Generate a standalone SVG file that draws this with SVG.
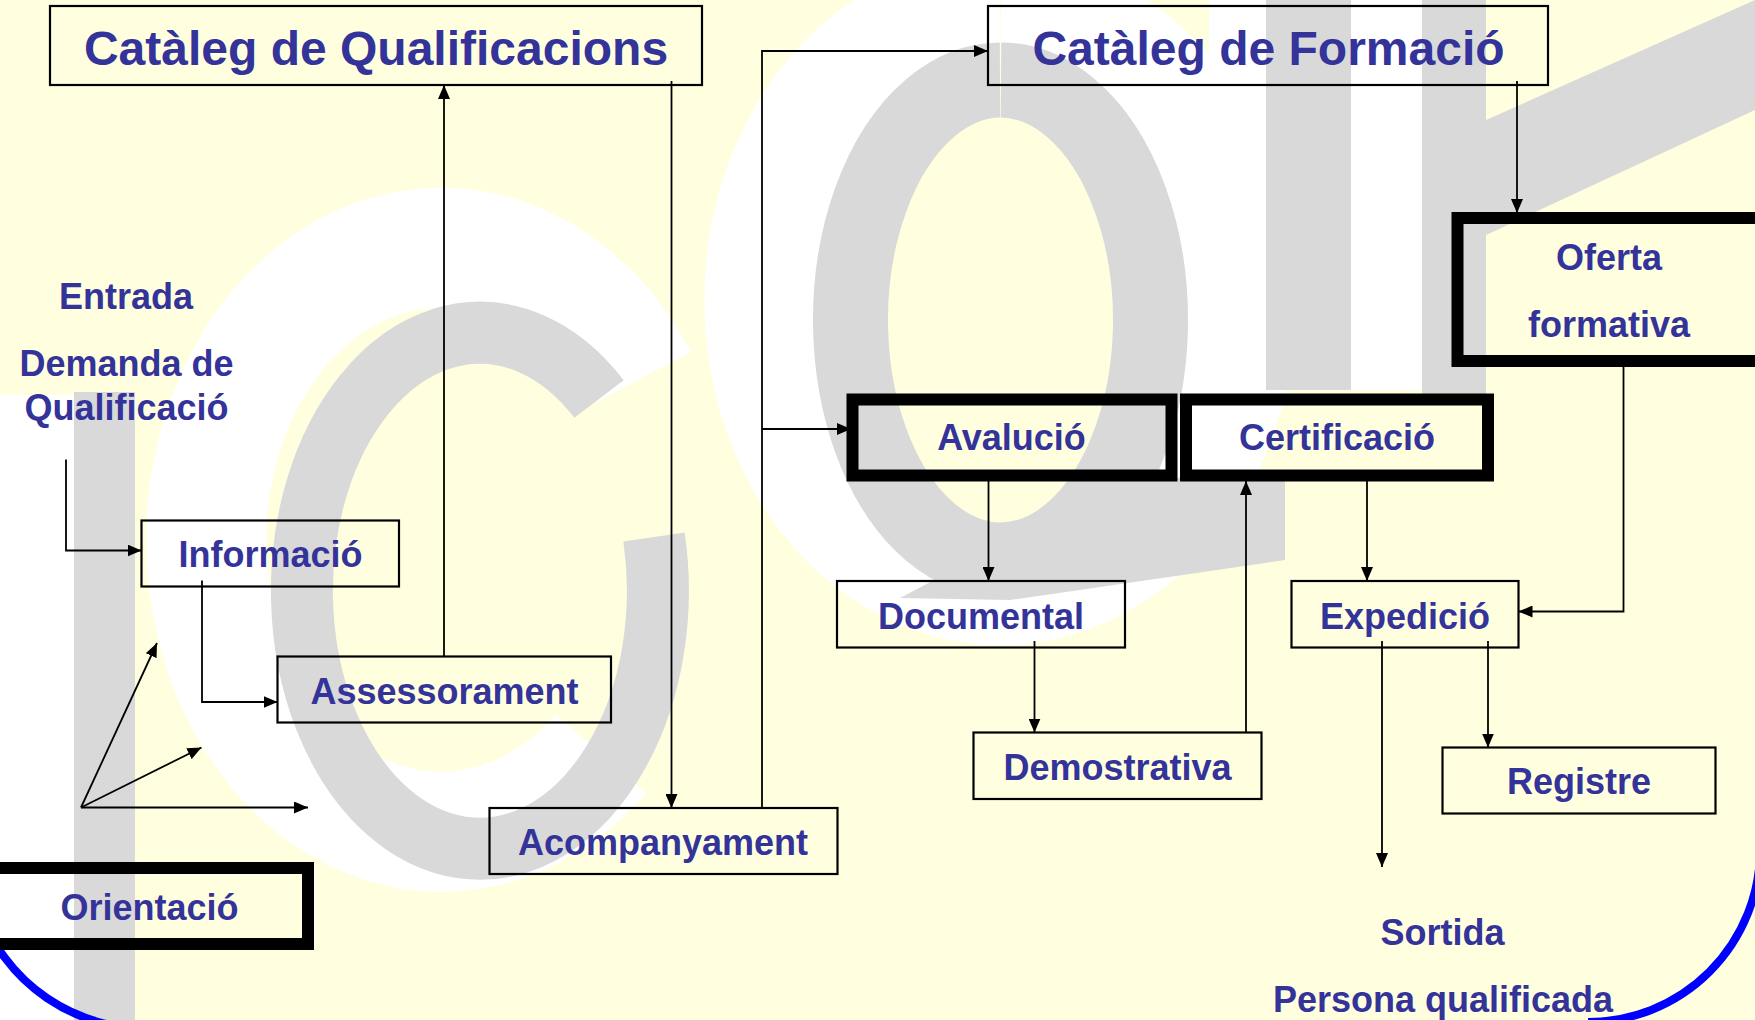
<svg xmlns="http://www.w3.org/2000/svg" width="1755" height="1020" viewBox="0 0 1755 1020">
<defs>
<style>
.bg{fill:#FFFFE0}
.wm-g{fill:#D9D9D9}
.wm-w{fill:#FFFFFF}
.ring-g{fill:none;stroke:#D9D9D9}
.ring-w{fill:none;stroke:#FFFFFF}
.box{fill:none;stroke:#000;stroke-width:2.2}
.tbox{fill:none;stroke:#000;stroke-width:12}
.lbl{font-family:"Liberation Sans",Arial,sans-serif;font-weight:bold;fill:#333399;text-anchor:middle}
.s48{font-size:48px}
.s36{font-size:36px}
.con{fill:none;stroke:#000;stroke-width:1.8}
.frame{fill:none;stroke:#0000FF;stroke-width:8}
</style>
<marker id="ah" viewBox="0 0 14 12" markerWidth="14" markerHeight="12" refX="14" refY="6" orient="auto" markerUnits="userSpaceOnUse">
<path d="M0,0 L14,6 L0,12 z" fill="#000"/>
</marker>
</defs>
<rect class="bg" x="0" y="0" width="1755" height="1020"/>
<g id="watermark">
<rect class="wm-w" x="0" y="395" width="74" height="625"/>
<rect class="wm-g" x="74" y="392" width="61" height="628"/>
<path class="ring-w" stroke-width="120" d="M 638 380 A 235 292 0 1 0 601 754"/>
<path class="ring-g" stroke-width="62" d="M 599 399 A 178 258 0 1 0 654 537"/>
<path class="ring-w" stroke-width="110" d="M 1000 10 A 241 290 0 1 0 1001 10"/>
<path class="ring-g" stroke-width="75" d="M 1000 80 A 150 240 0 1 0 1001 80"/>
<polygon class="wm-g" points="900,598 1010,600 1285,560 1285,470 1120,482"/>
<rect class="wm-w" x="1209" y="0" width="57" height="390"/>
<rect class="wm-g" x="1266" y="0" width="85" height="390"/>
<rect class="wm-w" x="1351" y="0" width="71" height="390"/>
<rect class="wm-g" x="1422" y="0" width="64" height="400"/>
<polygon class="wm-g" points="1486,120 1755,0 1755,110 1486,235"/>
</g>
<g id="frame">
<path class="frame" d="M -21 908 A 175 175 0 0 0 156 1028"/>
<path class="frame" d="M 1760 850 A 172 172 0 0 1 1588 1022"/>
</g>
<g id="connectors">
<line class="con" x1="444" y1="657" x2="444" y2="85" marker-end="url(#ah)"/>
<line class="con" x1="671.5" y1="81" x2="671.5" y2="808" marker-end="url(#ah)"/>
<polyline class="con" points="762,808 762,51 988,51" marker-end="url(#ah)"/>
<line class="con" x1="762" y1="429" x2="851" y2="429" marker-end="url(#ah)"/>
<line class="con" x1="1517" y1="81" x2="1517" y2="213" marker-end="url(#ah)"/>
<polyline class="con" points="1623.5,367 1623.5,611.5 1518.5,611.5" marker-end="url(#ah)"/>
<line class="con" x1="988.5" y1="481" x2="988.5" y2="581" marker-end="url(#ah)"/>
<line class="con" x1="1034.5" y1="641" x2="1034.5" y2="732.5" marker-end="url(#ah)"/>
<line class="con" x1="1246" y1="732.5" x2="1246" y2="481" marker-end="url(#ah)"/>
<line class="con" x1="1367" y1="481" x2="1367" y2="581" marker-end="url(#ah)"/>
<line class="con" x1="1488" y1="641" x2="1488" y2="747.5" marker-end="url(#ah)"/>
<line class="con" x1="1382" y1="641" x2="1382" y2="867" marker-end="url(#ah)"/>
<polyline class="con" points="66,459.5 66,550.5 141.5,550.5" marker-end="url(#ah)"/>
<polyline class="con" points="202,580.5 202,702 277.5,702" marker-end="url(#ah)"/>
<line class="con" x1="81" y1="807.5" x2="157" y2="643" marker-end="url(#ah)"/>
<line class="con" x1="81" y1="807.5" x2="201.5" y2="747.5" marker-end="url(#ah)"/>
<line class="con" x1="81" y1="807.5" x2="308" y2="807.5" marker-end="url(#ah)"/>
</g>
<g id="cataleg-qualificacions">
<rect class="box" x="50" y="6" width="652" height="79"/>
<text class="lbl s48" x="376" y="65">Catàleg de Qualificacions</text>
</g>
<g id="cataleg-formacio">
<rect class="box" x="988" y="6" width="560" height="79"/>
<text class="lbl s48" x="1268.5" y="65">Catàleg de Formació</text>
</g>
<g id="oferta-formativa">
<rect class="tbox" x="1457.5" y="218" width="312" height="143"/>
<text class="lbl s36" x="1609" y="270">Oferta</text>
<text class="lbl s36" x="1609" y="337">formativa</text>
</g>
<g id="entrada">
<text class="lbl s36" x="126" y="309">Entrada</text>
<text class="lbl s36" x="126.5" y="376">Demanda de</text>
<text class="lbl s36" x="126.5" y="420">Qualificació</text>
</g>
<g id="informacio">
<rect class="box" x="141.5" y="520.5" width="257.5" height="66"/>
<text class="lbl s36" x="270.5" y="567">Informació</text>
</g>
<g id="assessorament">
<rect class="box" x="277.5" y="656.5" width="333.5" height="66"/>
<text class="lbl s36" x="444.5" y="704">Assessorament</text>
</g>
<g id="acompanyament">
<rect class="box" x="489.5" y="808" width="348" height="66"/>
<text class="lbl s36" x="663" y="855">Acompanyament</text>
</g>
<g id="orientacio">
<rect class="tbox" x="-30" y="868" width="338" height="76"/>
<text class="lbl s36" x="149.5" y="920">Orientació</text>
</g>
<g id="avaluacio">
<rect class="tbox" x="852.5" y="399.5" width="319" height="76"/>
<text class="lbl s36" x="1011.5" y="450">Avalució</text>
</g>
<g id="certificacio">
<rect class="tbox" x="1186" y="399.5" width="302" height="76"/>
<text class="lbl s36" x="1337" y="450">Certificació</text>
</g>
<g id="documental">
<rect class="box" x="837" y="581" width="288" height="66.5"/>
<text class="lbl s36" x="981" y="629">Documental</text>
</g>
<g id="demostrativa">
<rect class="box" x="973.5" y="732.5" width="288" height="66.5"/>
<text class="lbl s36" x="1117.5" y="779.5">Demostrativa</text>
</g>
<g id="expedicio">
<rect class="box" x="1291.5" y="581" width="227" height="66.5"/>
<text class="lbl s36" x="1405" y="629">Expedició</text>
</g>
<g id="registre">
<rect class="box" x="1442.5" y="747.5" width="273" height="66"/>
<text class="lbl s36" x="1579" y="794">Registre</text>
</g>
<g id="sortida">
<text class="lbl s36" x="1442.5" y="945">Sortida</text>
<text class="lbl s36" x="1443" y="1011.5">Persona qualificada</text>
</g>
</svg>
